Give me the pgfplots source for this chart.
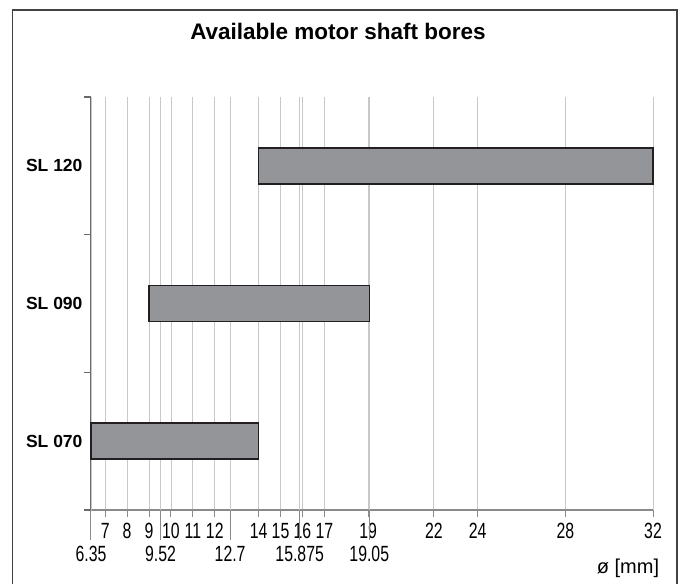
\documentclass[border=0pt]{standalone}
\usepackage{fontspec}
\setmainfont{Liberation Sans}
\newfontfamily\narrowfont[FakeStretch=0.72]{Liberation Sans}
\usepackage{pgfplots}
\pgfplotsset{compat=1.18}

\definecolor{barfill}{HTML}{939598}
\definecolor{baredge}{HTML}{231F20}
\definecolor{gridgray}{HTML}{C8C8C8}
\definecolor{axisgray}{HTML}{8A8A8A}
\definecolor{yaxisgray}{HTML}{6A6A6A}

\begin{document}
\begin{tikzpicture}[x=1pt,y=1pt]
\useasboundingbox (-91,-74) rectangle (589,510);

\begin{axis}[
    at={(0,0)}, anchor=south west,
    scale only axis,
    width=562pt, height=413pt,
    xbar stacked,
    bar width=36pt,
    xmin=6.35, xmax=32,
    ymin=0, ymax=3,
    enlargelimits=false,
    clip=false,
    axis x line*=bottom,
    axis y line*=left,
    x axis line style={axisgray, line width=1.4pt},
    y axis line style={yaxisgray, line width=1.6pt},
    tick align=outside,
    xtick={7,8,9,10,11,12,14,15,16,17,19,22,24,28,32},
    xticklabels={7,8,9,10,11,12,14,15,16,17,19,22,24,28,32},
    xmajorgrids,
    major grid style={gridgray, line width=0.9pt},
    major tick length=7pt,
    xtick style={axisgray, line width=1pt},
    xticklabel style={font=\narrowfont\fontsize{22}{22}\selectfont, anchor=base, yshift=-21pt},
    extra x ticks={6.35,9.52,12.7,15.875,19.05},
    extra x tick labels={6.35,9.52,12.7,15.875,19.05},
    extra x tick style={
        major tick length=30pt,
        tick style={black, line width=1pt},
    },
    ytick={0,1,2,3},
    yticklabels={},
    ytick style={yaxisgray, line width=1.2pt},
    extra y ticks={0.5,1.5,2.5},
    extra y tick labels={SL 070,SL 090,SL 120},
    extra y tick style={
        tick style={draw=none},
        ymajorgrids=false,
    },
    yticklabel style={font=\bfseries\fontsize{17.5}{17.5}\selectfont, anchor=east, xshift=2pt},
]
% invisible offsets (start of bore range)
\addplot+[draw=none, fill=none, forget plot] coordinates {(6.35,0.5) (9,1.5) (14,2.5)};
% visible range (end - start)
\addplot[fill=barfill, draw=baredge, line width=1.5pt] coordinates {(7.65,0.5) (10.05,1.5) (18,2.5)};
\end{axis}

% title and axis label
\node[font=\bfseries\fontsize{22.5}{22.5}\selectfont] at (247,479) {Available motor shaft bores};
\node[font=\fontsize{20}{20}\selectfont] at (537,-58) {ø [mm]};

% outer frame (its bottom edge lies below the picture)
\draw[color=baredge!85, line width=1.2pt] (-78.5,-74) -- (-78.5,500) -- (586,500) -- (586,-74);
\end{tikzpicture}
\end{document}
